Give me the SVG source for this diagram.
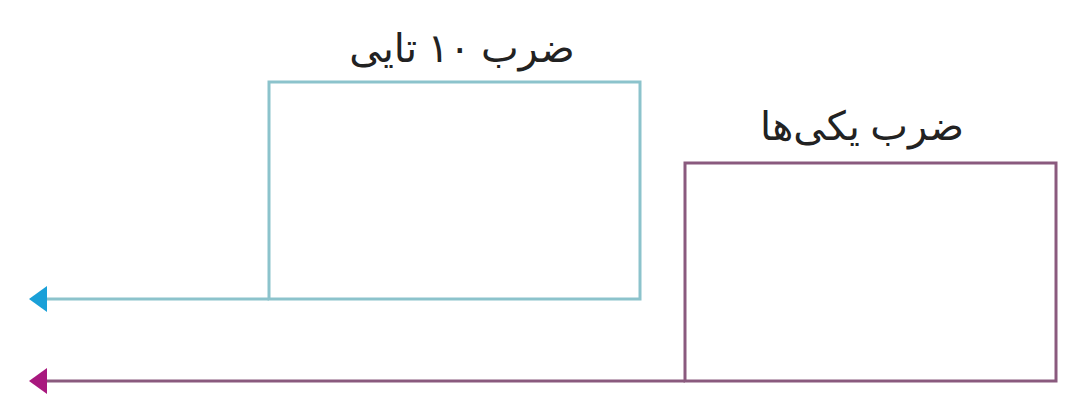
<svg xmlns="http://www.w3.org/2000/svg" width="1076" height="418" viewBox="0 0 1076 418">
<style>
.lbl{font-family:"Noto Sans","DejaVu Sans",sans-serif;font-size:40px;fill:#222;text-anchor:middle}
.cy{fill:none;stroke:#8cc3cc;stroke-width:3}
.mg{fill:none;stroke:#8a5a7e;stroke-width:3}
</style>
<defs>
<marker id="aC" viewBox="0 0 18 26" refX="1" refY="13" markerWidth="18" markerHeight="26" markerUnits="userSpaceOnUse" orient="auto"><path d="M0,0 L18,13 L0,26 Z" fill="#1aa0d8"/></marker>
<marker id="aM" viewBox="0 0 18 26" refX="1" refY="13" markerWidth="18" markerHeight="26" markerUnits="userSpaceOnUse" orient="auto"><path d="M0,0 L18,13 L0,26 Z" fill="#a8187e"/></marker>
</defs>
<rect width="1076" height="418" fill="#fff"/>
<g id="node-tens">
<rect class="cy" x="269" y="82" width="371" height="217"/>
<text class="lbl" x="462" y="62" direction="rtl">ضرب ۱۰ تایی</text>
</g>
<g id="node-ones">
<rect class="mg" x="685" y="163" width="371" height="218"/>
<text class="lbl" x="862" y="140" direction="rtl">ضرب یکی‌ها</text>
</g>
<g id="connectors">
<line class="cy" x1="269" y1="299" x2="46" y2="299" marker-end="url(#aC)"/>
<line class="mg" x1="685" y1="381" x2="46" y2="381" marker-end="url(#aM)"/>
</g>
</svg>
